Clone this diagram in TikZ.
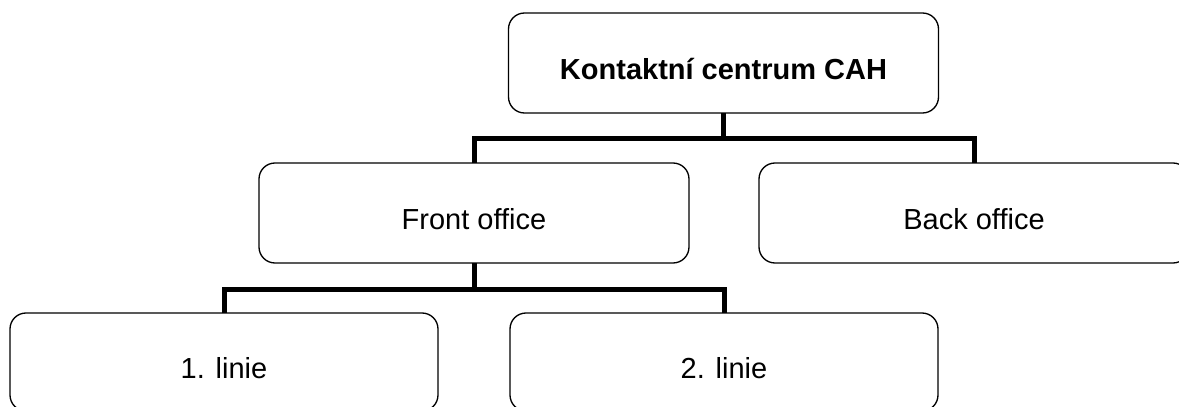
\documentclass[tikz,border=0pt]{standalone}
\usepackage{fontspec}
\setmainfont{Liberation Sans}
\usepackage{tikz}
\usetikzlibrary{positioning}

\begin{document}
\begin{tikzpicture}[
    x=0.75pt,y=-0.75pt,
    box/.style={draw,line width=1pt,rounded corners=12pt,minimum width=322.5pt,minimum height=75pt,inner sep=0pt,outer sep=0pt,text height=24.6pt,text depth=0pt,align=center,font=\fontsize{21.75}{26}\selectfont},
    head/.style={box,font=\fontsize{21.75}{26}\selectfont\bfseries},
    leaf/.style={box,minimum width=321pt,minimum height=73.5pt},
    link/.style={line width=3.75pt,line join=miter}
  ]
    \useasboundingbox (0,0) rectangle (1179,407);

    \node[head] (kc) at (723.5,63) {Kontaktní centrum CAH};
    \node[box] (front) at (474,213) {Front office};
    \node[box] (back) at (974,213) {Back office};
    \node[leaf] (lin1) at (224,362) {1. linie};
    \node[leaf] (lin2) at (724,362) {2. linie};

    % first level
    \draw[link] (kc.south) -- ++(0,25) coordinate (kcj);
    \draw[link] (front.north) |- (kcj) -| (back.north);

    % second level
    \draw[link] (front.south) -- ++(0,26) coordinate (frj);
    \draw[link] (lin1.north) |- (frj) -| (lin2.north);
\end{tikzpicture}
\end{document}
